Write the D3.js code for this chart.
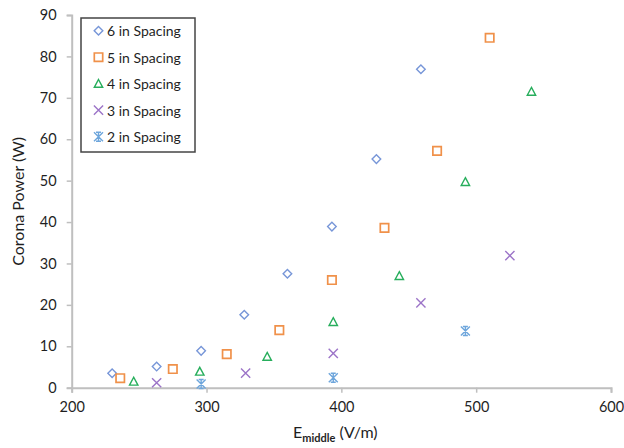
<!DOCTYPE html>
<html>
<head>
<meta charset="utf-8">
<script src="https://cdn.jsdelivr.net/npm/d3@7/dist/d3.min.js"></script>
<style>
  html, body { margin: 0; padding: 0; background: #fff; }
  svg { display: block; }
  text { font-family: Lato, "Open Sans", sans-serif; fill: #1f1f1f; }
</style>
</head>
<body>
<svg id="chart" width="624" height="448"></svg>
<script>
// Corona power measured at several conductor spacings
const seriesNames = ["6 in Spacing", "5 in Spacing", "4 in Spacing", "3 in Spacing", "2 in Spacing"];
const eField6 = [230, 263, 296, 328, 360, 393, 426, 459];
const power6  = [3.5, 5.1, 8.9, 17.6, 27.5, 38.9, 55.2, 76.9];
const eField5 = [236, 275, 315, 354, 393, 432, 471, 510];
const power5  = [2.3, 4.5, 8.1, 13.9, 26.0, 38.6, 57.2, 84.5];
const eField4 = [246, 295, 345, 394, 443, 492, 541];
const power4  = [1.5, 3.9, 7.5, 15.9, 27.0, 49.7, 71.5];
const eField3 = [263, 329, 394, 459, 525];
const power3  = [1.2, 3.5, 8.3, 20.5, 31.9];
const eField2 = [296, 394, 492];
const power2  = [0.9, 2.4, 13.7];
const xTicks = [200, 300, 400, 500, 600];
const yTicks = [0, 10, 20, 30, 40, 50, 60, 70, 80, 90];

const series = [
  { name: seriesNames[0], xs: eField6, ys: power6, shape: "diamond",  color: "#7796d8" },
  { name: seriesNames[1], xs: eField5, ys: power5, shape: "square",   color: "#f0914a" },
  { name: seriesNames[2], xs: eField4, ys: power4, shape: "triangle", color: "#27ae5c" },
  { name: seriesNames[3], xs: eField3, ys: power3, shape: "cross",    color: "#9c74c8" },
  { name: seriesNames[4], xs: eField2, ys: power2, shape: "star",     color: "#6ea6dc" }
];

const svg = d3.select("#chart");
const plotLeft = 71.7, plotRight = 611, plotTop = 15, plotBottom = 387.7;

const x = d3.scaleLinear().domain([200, 600]).range([plotLeft, plotRight]);
const y = d3.scaleLinear().domain([0, 90]).range([plotBottom, plotTop]);

// Marker outlines, centred on the origin
function markerPath(shape) {
  const p = d3.path();
  if (shape === "diamond") {
    const r = 4.3;
    p.moveTo(0, -r); p.lineTo(r, 0); p.lineTo(0, r); p.lineTo(-r, 0); p.closePath();
  } else if (shape === "square") {
    const r = 4.2;
    p.rect(-r, -r, 2 * r, 2 * r);
  } else if (shape === "triangle") {
    p.moveTo(0, -4.2); p.lineTo(4.2, 3.6); p.lineTo(-4.2, 3.6); p.closePath();
  } else if (shape === "cross") {
    const r = 4.6;
    p.moveTo(-r, -r); p.lineTo(r, r); p.moveTo(r, -r); p.lineTo(-r, r);
  } else if (shape === "star") {
    const r = 4.5;
    p.moveTo(-r, -r); p.lineTo(r, r); p.moveTo(r, -r); p.lineTo(-r, r);
    p.moveTo(0, -r); p.lineTo(0, r);
    p.moveTo(-2.5, -r); p.lineTo(2.5, -r);
    p.moveTo(-2.5, r); p.lineTo(2.5, r);
  }
  return p.toString();
}

// Axes
const axisColor = "#bfbfbf";
const xAxis = svg.append("g")
  .attr("transform", `translate(0,${plotBottom})`)
  .call(d3.axisBottom(x).tickValues(xTicks).tickSize(5).tickPadding(9).tickFormat(d3.format("d")));
const yAxis = svg.append("g")
  .attr("transform", `translate(${plotLeft},0)`)
  .call(d3.axisLeft(y).tickValues(yTicks).tickSize(5).tickPadding(10).tickFormat(d3.format("d")));

[xAxis, yAxis].forEach(g => {
  g.select(".domain").attr("stroke", axisColor).attr("stroke-width", 2);
  g.selectAll(".tick line").attr("stroke", axisColor).attr("stroke-width", 1.5);
  g.selectAll(".tick text").attr("font-size", 14.5).attr("fill", "#1f1f1f")
    .attr("font-family", "Lato, 'Open Sans', sans-serif");
});

// Points
const pts = svg.append("g");
series.forEach(s => {
  const data = s.xs.map((v, i) => [v, s.ys[i]]);
  pts.selectAll(null)
    .data(data)
    .join("path")
    .attr("d", markerPath(s.shape))
    .attr("transform", d => `translate(${x(d[0])},${y(d[1])})`)
    .attr("fill", "none")
    .attr("stroke", s.color)
    .attr("stroke-width", s.shape === "square" ? 1.7 : 1.4);
});

// Axis titles
svg.append("text")
  .attr("transform", `translate(20,${(plotTop + plotBottom) / 2}) rotate(-90)`)
  .attr("text-anchor", "middle")
  .attr("dominant-baseline", "middle")
  .attr("font-size", 16)
  .text("Corona Power (W)");

const xTitle = svg.append("text")
  .attr("x", (plotLeft + plotRight) / 2 - 6)
  .attr("y", 438)
  .attr("text-anchor", "middle")
  .attr("font-size", 16);
xTitle.append("tspan").text("E");
xTitle.append("tspan").attr("font-size", 11).attr("font-weight", "bold").attr("dy", 4).text("middle");
xTitle.append("tspan").attr("dy", -4).text(" (V/m)");

// Legend
const legend = svg.append("g").attr("transform", "translate(81,18)");
legend.append("rect")
  .attr("width", 114).attr("height", 134)
  .attr("fill", "#fff").attr("stroke", "#444").attr("stroke-width", 1.5);
series.forEach((s, i) => {
  const row = legend.append("g").attr("transform", `translate(0,${12.7 + i * 26.5})`);
  row.append("path")
    .attr("d", markerPath(s.shape))
    .attr("transform", "translate(17.5,0)")
    .attr("fill", "none")
    .attr("stroke", s.color)
    .attr("stroke-width", s.shape === "square" ? 1.7 : 1.4);
  row.append("text")
    .attr("x", 26)
    .attr("dominant-baseline", "central")
    .attr("font-size", 14)
    .text(s.name);
});
</script>
</body>
</html>
